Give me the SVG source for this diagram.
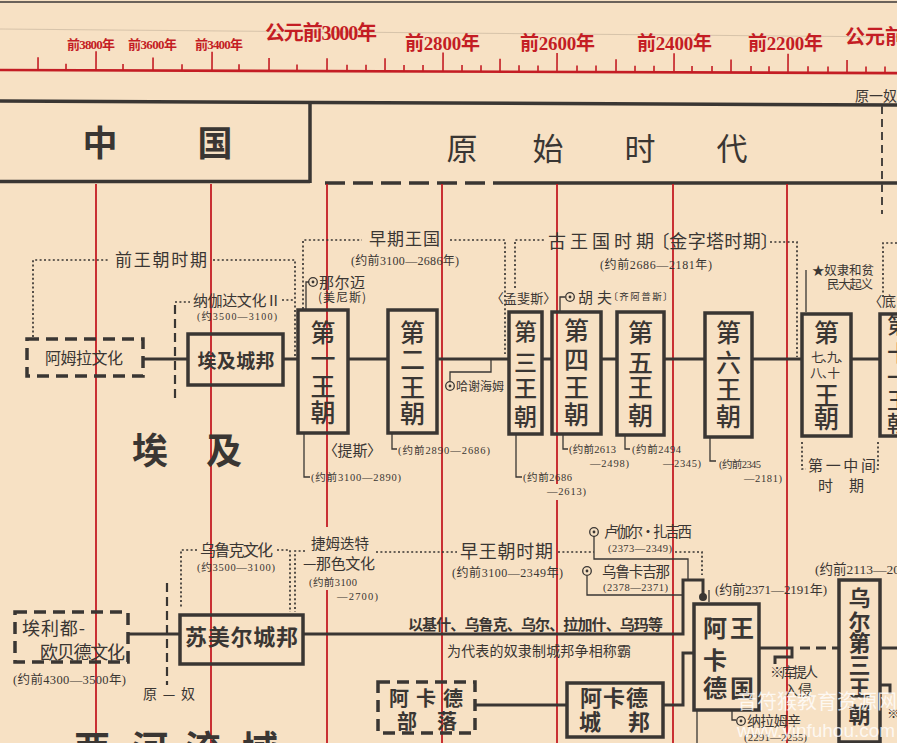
<svg xmlns="http://www.w3.org/2000/svg" width="897" height="743" viewBox="0 0 897 743">
<defs>
<style>
.ax{stroke:#c41d24;stroke-width:2.6;fill:none}
.tk{stroke:#c41d24;stroke-width:1.6;fill:none}
.rd{stroke:#c41d24;stroke-width:1.8;fill:none}
.rt{fill:#c41d24;font-family:"Liberation Serif","Noto Sans CJK SC",serif;font-weight:bold}
.ln{stroke:#3a3633;stroke-width:3;fill:none}
.hv{stroke:#3a3633;stroke-width:3.5;fill:none}
.th{stroke:#3a3633;stroke-width:1.3;fill:none}
.dt{stroke:#3a3633;stroke-width:1.7;stroke-dasharray:2 2.4;fill:none}
.dsh{stroke:#3a3633;stroke-width:2.2;stroke-dasharray:9 5;fill:none}
.box{fill:none;stroke:#3a3633;stroke-width:3.5}
.dbox{fill:none;stroke:#3a3633;stroke-width:3.5;stroke-dasharray:12 7}
.cj{font-family:"Noto Sans CJK SC",sans-serif;fill:#3a3633}
.dg{font-family:"Liberation Serif","Noto Sans CJK SC",serif;fill:#3a3633}
.b{font-weight:bold}
.md{font-weight:500}
.m{text-anchor:middle}
.pa{font-feature-settings:"palt"}
.wm{fill:#ffffff;fill-opacity:0.78}
</style>
<g id="od"><circle r="4.3" fill="none" stroke="#3a3633" stroke-width="1.3"/><circle r="1.4" fill="#3a3633"/></g>
</defs>
<rect x="0" y="0" width="897" height="743" fill="#f7e1c4"/>

<!-- header / timeline -->
<g id="timeline">
<line x1="0" y1="2" x2="897" y2="2" stroke="#6b625a" stroke-width="2"/>
<line x1="0" y1="29" x2="897" y2="37" stroke="#b5a58f" stroke-width="0.8" opacity="0.6"/>
<g transform="rotate(0.2 0 70)">
<line class="ax" x1="0" y1="70" x2="897" y2="70"/>
<path class="tk" d="M96 70V51M212 70V51M443 70V51M557 70V51M674 70V51M788 70V51
M38 70V57M153 70V57M269 70V57M327 70V57M385 70V57M500 70V57M616 70V57M731 70V57M847 70V57
M66 70V63.5M123 70V63.5M182 70V63.5M239 70V63.5M297 70V63.5M347 70V63.5M366 70V63.5M404 70V63.5M423 70V63.5M462 70V63.5M481 70V63.5M519 70V63.5M538 70V63.5M577 70V63.5M596 70V63.5M635 70V63.5M654 70V63.5M692 70V63.5M712 70V63.5M751 70V63.5M769 70V63.5M808 70V63.5M828 70V63.5M866 70V63.5M885 70V63.5"/>
</g>
<text class="rt" x="67" y="49" font-size="13" textLength="48">前3800年</text>
<text class="rt" x="128" y="49" font-size="13" textLength="49">前3600年</text>
<text class="rt" x="195" y="49" font-size="13" textLength="48">前3400年</text>
<text class="rt" x="265" y="40" font-size="20" textLength="112">公元前3000年</text>
<text class="rt" x="405" y="50" font-size="19" textLength="75">前2800年</text>
<text class="rt" x="520" y="50" font-size="19" textLength="75">前2600年</text>
<text class="rt" x="637" y="50" font-size="19" textLength="75">前2400年</text>
<text class="rt" x="748" y="50" font-size="19" textLength="75">前2200年</text>
<text class="rt" x="845" y="44" font-size="20">公元前</text>
<text class="cj" x="855" y="101" font-size="14">原一奴</text>
<path class="hv" d="M0 101L897 105"/>
</g>

<!-- period headers -->
<g id="header-china">
<path class="hv" d="M0 181.5H310M310 103V183"/>
<text class="cj b m" x="100" y="156" font-size="35">中</text>
<text class="cj b m" x="215" y="156" font-size="35">国</text>
</g>
<g id="header-primitive">
<path class="hv" d="M325 183H495" stroke-dasharray="20 8"/>
<path class="hv" d="M495 183H897"/>
<path d="M882 106V214" stroke="#4a4540" stroke-width="2" stroke-dasharray="8 5" fill="none"/>
<text class="cj m" x="462" y="160" font-size="31">原</text>
<text class="cj m" x="548" y="160" font-size="31">始</text>
<text class="cj m" x="640" y="160" font-size="31">时</text>
<text class="cj m" x="732" y="160" font-size="31">代</text>
</g>

<!-- red time grid -->
<g id="grid">
<path class="rd" d="M96 184V743M211 184V743M327 184V527M327 590V743M442 184V743M557 184V484M557 500V743M673 184V743M787 184V743"/>
</g>

<!-- region titles -->
<g id="region-egypt">
<text class="cj b m" x="150" y="464" font-size="36">埃</text>
<text class="cj b m" x="224" y="464" font-size="36">及</text>
</g>
<g id="region-mesopotamia">
<text class="cj b m" x="92" y="762" font-size="36">两</text>
<text class="cj b m" x="150" y="762" font-size="36">河</text>
<text class="cj b m" x="203" y="762" font-size="36">流</text>
<text class="cj b m" x="260" y="762" font-size="36">域</text>
</g>

<!-- connectors -->
<g id="connectors">
<path class="ln" d="M143 359H188M283 359H298M348 359H388M437 359H509M542 359H552M601 359H617M664 359H705M752 359H802M851 359H880"/>
<path class="dt" d="M33 337V260H108M213 260H295V356"/>
<path class="dt" d="M175 302H190M282 300H295"/>
<path class="dsh" d="M175 305V400"/>
<path class="dt" d="M303 309V240H362M450 240H505V354"/>
<path class="dt" d="M515 288V240H545M770 242H797V357"/>
<path class="dt" d="M897 243H883V298"/>
<path class="dt" d="M802 442V469H806M878 442V469H874"/>
<path class="th" d="M306 309V282H309M560 312V297H565M806 312V270M491 359V372H450V381"/>
<path class="th" d="M304 433V477H310M392 433V449H397M516 434V477H522M563 434V449H568M625 435V449H630M710 437V461H716"/>

<path class="ln" d="M128 634H180"/>
<path class="dsh" d="M167 583V685"/>
<path class="ln" d="M303 634H683V580H703V594"/>
<circle cx="703" cy="597" r="4" fill="#3a3633"/>
<path class="dt" d="M376 552H457M558 552H594M675 552H702V575"/>
<path class="dt" d="M197 550H181V608M277 550H290V612M305 551H295V612"/>
<path class="th" d="M594 536V559H688V580M587 576V595H683M709 590V602"/>
<path class="ln" d="M759 648H792V657H775V664"/>
<path class="ln" d="M800 648H838" stroke-dasharray="10 6"/>
<path class="ln" d="M880 648H897M880 685H890V694"/>
<path class="ln" d="M663 705H683V653H694M475 705H567"/>
<path class="th" d="M732 710V720H736M697 710V743"/>
</g>

<!-- Egypt nodes -->
<g id="amra"><rect class="dbox" x="27" y="339" width="116" height="37"/><text class="cj m" x="84" y="364" font-size="16" textLength="78">阿姆拉文化</text></g>
<g id="predynastic"><text class="cj" x="115" y="266" font-size="17" textLength="92">前王朝时期</text></g>
<g id="naqada"><text class="cj" x="193" y="306" font-size="15" textLength="88">纳伽达文化Ⅱ</text><text class="dg" x="197" y="320" font-size="10" textLength="80">(约3500—3100)</text></g>
<g id="egypt-citystates"><rect class="box" x="188" y="334" width="95" height="51"/><text class="cj b m" x="236" y="368" font-size="19" textLength="77">埃及城邦</text></g>
<g id="early-kingdom"><text class="cj" x="369" y="245" font-size="17" textLength="71">早期王国</text><text class="dg" x="351" y="265" font-size="12" textLength="108">(约前3100—2686年)</text></g>
<g id="narmer"><use href="#od" x="313" y="282"/><text class="cj" x="319" y="288" font-size="15" textLength="46">那尔迈</text><text class="cj" x="318" y="302" font-size="12" textLength="48">(美尼斯)</text></g>
<g id="dyn1"><rect class="box" x="298" y="310" width="50" height="123"/>
<text class="cj md m" font-size="25" x="323" y="342">第</text><text class="cj md m" font-size="25" x="323" y="368">一</text><text class="cj md m" font-size="25" x="323" y="396">王</text><text class="cj md m" font-size="25" x="323" y="422">朝</text>
<text class="cj pa" x="330" y="456" font-size="15" textLength="45">〈提斯〉</text>
<text class="dg" x="311" y="481" font-size="10.5" textLength="90">(约前3100—2890)</text></g>
<g id="dyn2"><rect class="box" x="388" y="310" width="49" height="123"/>
<text class="cj md m" font-size="25" x="412.5" y="342">第</text><text class="cj md m" font-size="25" x="412.5" y="369">二</text><text class="cj md m" font-size="25" x="412.5" y="397">王</text><text class="cj md m" font-size="25" x="412.5" y="423">朝</text>
<text class="dg" x="398" y="454" font-size="10.5" textLength="92">(约前2890—2686)</text></g>
<g id="khasekhemwy"><use href="#od" x="450" y="386"/><text class="cj" x="456" y="391" font-size="12" textLength="48">哈谢海姆</text></g>
<g id="old-kingdom"><text class="cj" x="548" y="248" font-size="18" textLength="106">古王国时期</text><text class="cj pa" x="660" y="248" font-size="18" textLength="110">〔金字塔时期〕</text><text class="dg" x="600" y="269" font-size="12" textLength="112">(约前2686—2181年)</text></g>
<g id="memphis"><text class="cj pa" x="497" y="303" font-size="13" textLength="53">〈孟斐斯〉</text></g>
<g id="dyn3"><rect class="box" x="509" y="312" width="33" height="122"/>
<text class="cj md m" font-size="23" x="525.5" y="340">第</text><text class="cj md m" font-size="23" x="525.5" y="371">三</text><text class="cj md m" font-size="23" x="525.5" y="397">王</text><text class="cj md m" font-size="23" x="525.5" y="425">朝</text>
<text class="dg" x="523" y="481" font-size="10.5" textLength="49">(约前2686</text><text class="dg" x="547" y="495" font-size="10.5" textLength="39">—2613)</text></g>
<g id="khufu"><use href="#od" x="570" y="297"/><text class="cj" x="578" y="303" font-size="15" textLength="34">胡 夫</text><text class="cj pa" x="613" y="300" font-size="9.5" textLength="55">〔齐阿普斯〕</text></g>
<g id="dyn4"><rect class="box" x="552" y="312" width="49" height="122"/>
<text class="cj md m" font-size="25" x="576.5" y="340">第</text><text class="cj md m" font-size="25" x="576.5" y="369">四</text><text class="cj md m" font-size="25" x="576.5" y="397">王</text><text class="cj md m" font-size="25" x="576.5" y="424">朝</text>
<text class="dg" x="569" y="453" font-size="10.5" textLength="47">(约前2613</text><text class="dg" x="590" y="467" font-size="10.5" textLength="39">—2498)</text></g>
<g id="dyn5"><rect class="box" x="617" y="312" width="47" height="123"/>
<text class="cj md m" font-size="25" x="640.5" y="342">第</text><text class="cj md m" font-size="25" x="640.5" y="372">五</text><text class="cj md m" font-size="25" x="640.5" y="397">王</text><text class="cj md m" font-size="25" x="640.5" y="425">朝</text>
<text class="dg" x="632" y="453" font-size="10.5" textLength="49">(约前2494</text><text class="dg" x="663" y="467" font-size="10.5" textLength="38">—2345)</text></g>
<g id="dyn6"><rect class="box" x="705" y="313" width="47" height="124"/>
<text class="cj md m" font-size="25" x="728.5" y="342">第</text><text class="cj md m" font-size="25" x="728.5" y="372">六</text><text class="cj md m" font-size="25" x="728.5" y="399">王</text><text class="cj md m" font-size="25" x="728.5" y="426">朝</text>
<text class="dg" x="719" y="468" font-size="10.5" textLength="42">(约前2345</text><text class="dg" x="744" y="482" font-size="10.5" textLength="38">—2181)</text></g>
<g id="revolt"><text class="cj" x="812" y="275" font-size="12.5" textLength="62">★奴隶和贫</text><text class="cj" x="827" y="289" font-size="12.5" textLength="46">民大起义</text></g>
<g id="dyn7-10"><rect class="box" x="802" y="314" width="49" height="122"/>
<text class="cj md m" font-size="25" x="826.5" y="342">第</text>
<text class="cj pa" x="811" y="362" font-size="12.5" textLength="33">七、九、</text>
<text class="cj pa" x="810" y="378" font-size="12.5" textLength="30">八、十</text>
<text class="cj md m" font-size="25" x="826.5" y="405">王</text><text class="cj md m" font-size="25" x="826.5" y="428">朝</text></g>
<g id="first-intermediate"><text class="cj" x="808" y="471" font-size="15" textLength="68">第一中间</text><text class="cj" x="818" y="491" font-size="15" textLength="46">时 期</text></g>
<g id="dyn11"><rect class="box" x="880" y="314" width="40" height="122"/>
<text class="cj md m" font-size="22" x="898" y="333">第</text><text class="cj md m" font-size="22" x="898" y="361">十</text><text class="cj md m" font-size="22" x="898" y="385">一</text><text class="cj md m" font-size="22" x="898" y="408">王</text><text class="cj md m" font-size="22" x="898" y="431">朝</text></g>
<g id="thebes"><text class="cj pa" x="875" y="306" font-size="14">〈底</text></g>

<!-- Mesopotamia nodes -->
<g id="eridu"><rect class="dbox" x="15" y="612" width="113" height="50"/><text class="cj" x="22" y="635" font-size="18" textLength="63">埃利都-</text><text class="cj" x="40" y="659" font-size="18" textLength="85">欧贝德文化</text><text class="dg" x="13" y="684" font-size="12.5" textLength="113">(约前4300—3500年)</text></g>
<g id="transition"><text class="cj" x="143" y="699" font-size="14" textLength="52">原—奴</text></g>
<g id="uruk"><text class="cj" x="200" y="556" font-size="16" textLength="73">乌鲁克文化</text><text class="dg" x="197" y="571" font-size="10.5" textLength="78">(约3500—3100)</text></g>
<g id="jemdet"><text class="cj" x="311" y="549" font-size="14.5" textLength="58">捷姆迭特</text><text class="cj" x="303" y="569" font-size="15" textLength="72">—那色文化</text><text class="dg" x="309" y="586" font-size="10.5" textLength="48">(约前3100</text><text class="dg" x="337" y="600" font-size="10.5" textLength="41">—2700)</text></g>
<g id="sumer"><rect class="box" x="180" y="615" width="123" height="49"/><text class="cj b" x="185" y="645" font-size="22" textLength="113">苏美尔城邦</text></g>
<g id="early-dynastic"><text class="cj" x="460" y="558" font-size="18" textLength="93">早王朝时期</text><text class="dg" x="452" y="577" font-size="12" textLength="111">(约前3100—2349年)</text></g>
<g id="city-wars"><text class="cj b" x="408" y="630" font-size="15" textLength="255">以基什、乌鲁克、乌尔、拉加什、乌玛等</text><text class="cj" x="447" y="656" font-size="14" textLength="184">为代表的奴隶制城邦争相称霸</text></g>
<g id="lugalzagesi"><use href="#od" x="594" y="532"/><text class="cj" x="604" y="537" font-size="14.5" textLength="88">卢伽尔·扎吉西</text><text class="dg" x="608" y="552" font-size="10.5" textLength="64">(2373—2349)</text></g>
<g id="urukagina"><use href="#od" x="587" y="571"/><text class="cj" x="602" y="577" font-size="14.5" textLength="68">乌鲁卡吉那</text><text class="dg" x="603" y="591" font-size="10.5" textLength="65">(2378—2371)</text></g>
<g id="akkad-tribe"><rect class="dbox" x="378" y="682" width="97" height="51"/><text class="cj b" x="389" y="706" font-size="20" textLength="74">阿 卡 德</text><text class="cj b" x="397" y="729" font-size="20" textLength="60">部  落</text></g>
<g id="akkad-city"><rect class="box" x="567" y="683" width="96" height="54"/><text class="cj b" x="580" y="706" font-size="22" textLength="68">阿卡德</text><text class="cj b" x="579" y="730" font-size="22">城</text><text class="cj b" x="628" y="730" font-size="22">邦</text></g>
<g id="akkad-kingdom"><rect class="box" x="694" y="604" width="65" height="106"/>
<text class="cj b m" x="715" y="637" font-size="24">阿</text><text class="cj b m" x="742" y="637" font-size="24">王</text>
<text class="cj b m" x="715" y="669" font-size="24">卡</text>
<text class="cj b m" x="715" y="697" font-size="24">德</text><text class="cj b m" x="742" y="697" font-size="24">国</text>
<text class="dg" x="715" y="594" font-size="13" textLength="112">(约前2371—2191年)</text></g>
<g id="gutian"><text class="cj" x="770" y="677" font-size="14" textLength="48">※库提人</text><text class="cj" x="784" y="695" font-size="14" textLength="28">入侵</text></g>
<g id="naram-sin"><use href="#od" x="741" y="721"/><text class="cj" x="747" y="726" font-size="14" textLength="54">纳拉姆辛</text><text class="dg" x="744" y="741" font-size="11" textLength="63">(2291—2255)</text></g>
<g id="ur3"><rect class="box" x="839" y="580" width="41" height="162"/>
<text class="cj b m" x="859.5" y="606" font-size="22">乌</text><text class="cj b m" x="859.5" y="630" font-size="22">尔</text><text class="cj b m" x="859.5" y="651" font-size="22">第</text><text class="cj b m" x="859.5" y="673" font-size="22">三</text><text class="cj b m" x="859.5" y="696" font-size="22">王</text><text class="cj b m" x="859.5" y="723" font-size="22">朝</text>
<text class="dg" x="815" y="574" font-size="13.5">(约前2113—20</text>
<text class="cj" x="887" y="718" font-size="13">※</text></g>

<!-- watermark -->
<g id="watermark">
<text class="cj wm" x="737" y="709" font-size="20" textLength="160">音符猴教育资源网</text>
<text class="wm" x="737" y="737" font-size="19" font-family="Liberation Sans, sans-serif" textLength="158">www.yinfuhou.com</text>
</g>
</svg>
